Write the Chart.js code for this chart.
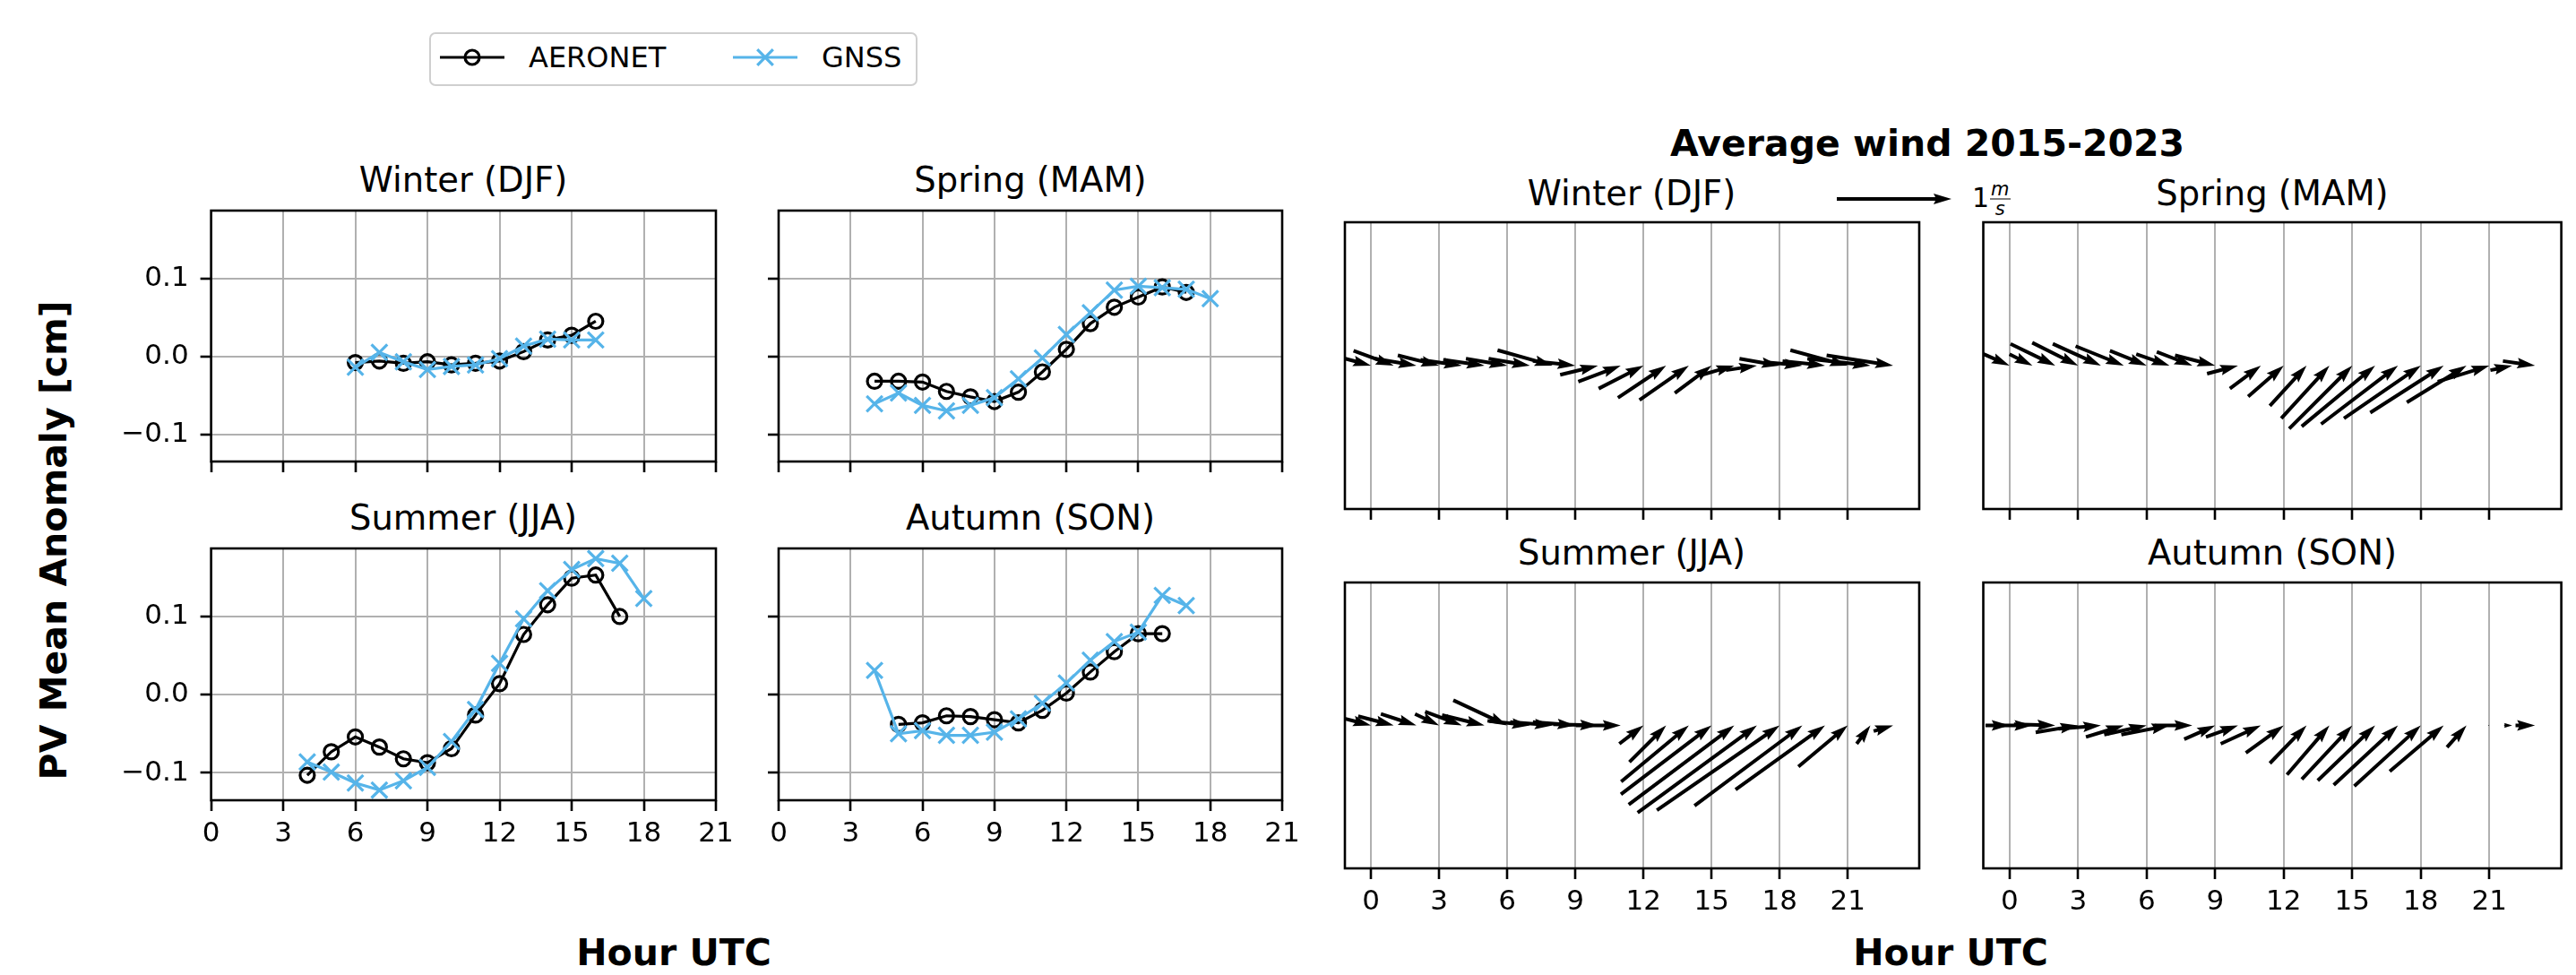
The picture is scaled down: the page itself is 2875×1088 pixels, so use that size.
<!DOCTYPE html>
<html>
<head>
<meta charset="utf-8">
<script src="https://cdn.jsdelivr.net/npm/chart.js@4.4.0/dist/chart.umd.min.js"></script>
<style>
    body { margin: 0; background: #fff; width: 2875px; height: 1088px; position: relative; overflow: hidden; font-family: "DejaVu Sans", sans-serif; }
    canvas { position: absolute; left: 0; top: 0; }
    .t { position: absolute; transform: translate(-50%, -50%); white-space: nowrap; line-height: 1; color: #000; }
    .ttl { font-size: 38.5px; }
    .big { font-size: 41px; font-weight: bold; }
    .leg { position: absolute; left: 479px; top: 36px; width: 541px; height: 56px; border: 2.5px solid #cfcfcf; border-radius: 7px; }
    .lt { position: absolute; transform: translate(0, -50%); font-size: 32px; line-height: 1; white-space: nowrap; }
</style>
</head>
<body>

<div class="leg"></div>
<div class="lt" style="left:590px;top:64px">AERONET</div>
<div class="lt" style="left:917px;top:64px">GNSS</div>

<div class="t ttl" style="left:517px;top:201px">Winter (DJF)</div>
<div class="t ttl" style="left:1150px;top:201px">Spring (MAM)</div>
<div class="t ttl" style="left:517px;top:578px">Summer (JJA)</div>
<div class="t ttl" style="left:1150px;top:578px">Autumn (SON)</div>

<div class="t big" style="left:2151px;top:160px">Average wind 2015-2023</div>
<div class="t ttl" style="left:1821px;top:216px">Winter (DJF)</div>
<div class="t ttl" style="left:2536px;top:216px">Spring (MAM)</div>
<div class="t ttl" style="left:1821px;top:617px">Summer (JJA)</div>
<div class="t ttl" style="left:2536px;top:617px">Autumn (SON)</div>

<div class="lt" style="left:2201px;top:222px;font-size:30px">1<span style="display:inline-flex;flex-direction:column;align-items:center;font-style:italic;font-size:21px;line-height:1;vertical-align:middle;margin-left:1px"><span style="border-bottom:1.8px solid #000;padding:0 1px">m</span><span>s</span></span></div>

<div class="t big" style="left:752px;top:1063px">Hour UTC</div>
<div class="t big" style="left:2177px;top:1063px">Hour UTC</div>
<div class="t big" style="left:60px;top:603px;transform:translate(-50%,-50%) rotate(-90deg)">PV Mean Anomaly [cm]</div>

<script>
// ticks
var hourTicks = [0, 3, 6, 9, 12, 15, 18, 21];
var pvTicks = [-0.1, 0.0, 0.1];

// PV anomaly per season (cm)
var winterAeronetHours = [6, 7, 8, 9, 10, 11, 12, 13, 14, 15, 16];
var winterAeronet = [-0.008, -0.006, -0.009, -0.007, -0.011, -0.009, -0.006, 0.006, 0.021, 0.027, 0.045];
var winterGnssHours = [6, 7, 8, 9, 10, 11, 12, 13, 14, 15, 16];
var winterGnss = [-0.014, 0.005, -0.007, -0.017, -0.013, -0.011, -0.003, 0.013, 0.022, 0.021, 0.021];

var springAeronetHours = [4, 5, 6, 7, 8, 9, 10, 11, 12, 13, 14, 15, 16, 17];
var springAeronet = [-0.032, -0.032, -0.033, -0.045, -0.052, -0.058, -0.046, -0.020, 0.009, 0.042, 0.063, 0.076, 0.089, 0.082];
var springGnssHours = [4, 5, 6, 7, 8, 9, 10, 11, 12, 13, 14, 15, 16, 17, 18];
var springGnss = [-0.061, -0.047, -0.063, -0.070, -0.063, -0.053, -0.029, -0.002, 0.028, 0.056, 0.085, 0.090, 0.088, 0.086, 0.074];

var summerAeronetHours = [4, 5, 6, 7, 8, 9, 10, 11, 12, 13, 14, 15, 16, 17];
var summerAeronet = [-0.103, -0.073, -0.054, -0.067, -0.082, -0.087, -0.069, -0.026, 0.014, 0.077, 0.115, 0.149, 0.153, 0.100];
var summerGnssHours = [4, 5, 6, 7, 8, 9, 10, 11, 12, 13, 14, 15, 16, 17, 18];
var summerGnss = [-0.086, -0.099, -0.113, -0.122, -0.110, -0.093, -0.060, -0.019, 0.040, 0.097, 0.133, 0.160, 0.174, 0.168, 0.123];

var autumnAeronetHours = [5, 6, 7, 8, 9, 10, 11, 12, 13, 14, 15, 16];
var autumnAeronet = [-0.038, -0.036, -0.027, -0.028, -0.032, -0.036, -0.020, 0.002, 0.029, 0.055, 0.078, 0.078];
var autumnGnssHours = [4, 5, 6, 7, 8, 9, 10, 11, 12, 13, 14, 15, 16, 17];
var autumnGnss = [0.031, -0.050, -0.046, -0.052, -0.052, -0.048, -0.031, -0.011, 0.015, 0.044, 0.068, 0.080, 0.127, 0.114];

// average wind components (m/s) per hour
var windHours = [0, 1, 2, 3, 4, 5, 6, 7, 8, 9, 10, 11, 12, 13, 14, 15, 16, 17, 18, 19, 20, 21, 22, 23];
var winterU = [0.33, 0.35, 0.36, 0.36, 0.36, 0.36, 0.36, 0.36, 0.48, 0.37, 0.33, 0.37, 0.39, 0.42, 0.43, 0.32, 0.28, 0.27, 0.35, 0.32, 0.37, 0.50, 0.55, 0.58];
var winterV = [-0.09, -0.13, -0.06, -0.09, -0.05, -0.05, -0.06, -0.06, -0.135, -0.04, 0.08, 0.14, 0.20, 0.28, 0.30, 0.24, 0.08, 0.04, -0.06, -0.03, -0.04, -0.135, -0.06, -0.09];
var springU = [0.27, 0.20, 0.39, 0.40, 0.42, 0.42, 0.32, 0.29, 0.31, 0.35, 0.27, 0.27, 0.31, 0.32, 0.42, 0.55, 0.64, 0.67, 0.67, 0.64, 0.52, 0.45, 0.19, 0.28];
var springV = [-0.12, -0.10, -0.19, -0.20, -0.19, -0.17, -0.13, -0.10, -0.12, -0.09, 0.07, 0.20, 0.27, 0.35, 0.46, 0.55, 0.53, 0.51, 0.46, 0.41, 0.32, 0.14, 0.04, -0.04];
var summerU = [0.23, 0.31, 0.31, 0.21, 0.32, 0.37, 0.47, 0.37, 0.37, 0.37, 0.39, 0.39, 0.21, 0.32, 0.59, 0.79, 0.92, 1.04, 1.07, 0.94, 0.78, 0.43, 0.12, 0.17];
var summerV = [-0.06, -0.08, -0.10, -0.10, -0.12, -0.09, -0.22, -0.04, -0.03, -0.03, -0.01, 0.00, 0.16, 0.32, 0.49, 0.60, 0.69, 0.76, 0.74, 0.70, 0.56, 0.36, 0.16, 0.05];
var autumnU = [0.21, 0.31, 0.36, 0.37, 0.37, 0.33, 0.37, 0.42, 0.33, 0.27, 0.28, 0.35, 0.33, 0.32, 0.37, 0.44, 0.50, 0.56, 0.58, 0.47, 0.17, 0.01, 0.07, 0.17];
var autumnV = [0.00, 0.00, -0.01, 0.06, 0.03, 0.10, 0.08, 0.08, 0.00, 0.12, 0.10, 0.16, 0.24, 0.33, 0.43, 0.47, 0.48, 0.52, 0.53, 0.40, 0.19, 0.00, 0.00, 0.00];
var keySpeed = 1;

var W = 2875, H = 1088;
var YW = 100, XH = 80;
var PX_PER_MS = 128;   // arrow length for 1 m/s
var SHAFT = 4;
var gnssColor = "#56B4E9";
var gridColor = "#b0b0b0";

Chart.defaults.font.family = "DejaVu Sans";
Chart.defaults.color = "#000";

function addCanvas(id) {
    var c = document.createElement("canvas");
    c.id = id;
    c.width = W;
    c.height = H;
    document.body.appendChild(c);
    return c.getContext("2d");
}

function pts(hours, vals) {
    return hours.map(function(h, i) { return { x: h, y: vals[i] }; });
}

var boxPlugin = {
    id: "box",
    afterDraw: function(chart) {
        var a = chart.chartArea, c = chart.ctx;
        c.save();
        c.strokeStyle = "#000";
        c.lineWidth = 2.6;
        c.strokeRect(a.left, a.top, a.right - a.left, a.bottom - a.top);
        c.restore();
    }
};

function xAxis(min, max, showLabels, gridOn) {
    return {
        type: "linear", min: min, max: max,
        afterBuildTicks: function(s) { s.ticks = hourTicks.map(function(v) { return { value: v }; }); },
        afterFit: function(s) { s.height = XH; s.paddingLeft = 0; s.paddingRight = 0; },
        ticks: {
            autoSkip: false, maxRotation: 0, padding: 7,
            font: { size: 31 },
            callback: function(v) { return showLabels ? String(v) : ""; }
        },
        grid: { display: true, drawOnChartArea: gridOn, color: gridColor, lineWidth: 2, tickLength: 12, tickColor: "#000", tickWidth: 2.6 },
        border: { display: false }
    };
}

function lineChart(id, box, aH, aV, gH, gV, showX, showY) {
    var ctx = addCanvas(id);
    var plugins = [boxPlugin];
    if (id === "pvWinter") plugins.push(legendPlugin);
    return new Chart(ctx, {
        type: "line",
        data: {
            datasets: [{
                label: "GNSS",
                data: pts(gH, gV),
                borderColor: gnssColor, backgroundColor: gnssColor,
                borderWidth: 3.2, pointStyle: "crossRot", pointRadius: 12.5,
                pointBorderColor: gnssColor, pointBorderWidth: 3.2, order: 0
            }, {
                label: "AERONET",
                data: pts(aH, aV),
                borderColor: "#000", backgroundColor: "rgba(0,0,0,0)",
                borderWidth: 3.2, pointStyle: "circle", pointRadius: 8,
                pointBorderColor: "#000", pointBackgroundColor: "rgba(0,0,0,0)", pointBorderWidth: 3.2, order: 1
            }]
        },
        options: {
            responsive: false, animation: false, events: [],
            layout: { padding: { left: box.l - YW, top: box.t, right: W - box.r, bottom: H - box.b - XH } },
            plugins: { legend: { display: false }, tooltip: { enabled: false } },
            scales: {
                x: xAxis(0, 21, showX, true),
                y: {
                    min: -0.135, max: 0.187,
                    afterBuildTicks: function(s) { s.ticks = pvTicks.map(function(v) { return { value: v }; }); },
                    afterFit: function(s) { s.width = YW; s.paddingTop = 0; s.paddingBottom = 0; },
                    ticks: {
                        padding: 13, font: { size: 31 },
                        callback: function(v) {
                            if (!showY) return "";
                            return (v < 0 ? "\u2212" : "") + Math.abs(v).toFixed(1);
                        }
                    },
                    grid: { color: gridColor, lineWidth: 2, tickLength: 12, tickColor: "#000", tickWidth: 2.6 },
                    border: { display: false }
                }
            }
        },
        plugins: plugins
    });
}

// legend samples drawn next to the html legend text
var legendPlugin = {
    id: "legendSamples",
    afterDraw: function(chart) {
        var c = chart.ctx, y = 64;
        c.save();
        c.lineWidth = 3.2;
        c.strokeStyle = "#000";
        c.beginPath(); c.moveTo(491, y); c.lineTo(563, y); c.stroke();
        c.beginPath(); c.arc(527, y, 8, 0, Math.PI * 2); c.stroke();
        c.strokeStyle = gnssColor;
        c.beginPath(); c.moveTo(818, y); c.lineTo(890, y); c.stroke();
        c.beginPath();
        c.moveTo(854 - 8.8, y - 8.8); c.lineTo(854 + 8.8, y + 8.8);
        c.moveTo(854 - 8.8, y + 8.8); c.lineTo(854 + 8.8, y - 8.8);
        c.stroke();
        c.restore();
    }
};

// matplotlib-like arrow, tip at (x, y), vector (dx, dy) in pixels
function drawArrow(c, x, y, dx, dy) {
    var L = Math.hypot(dx, dy);
    if (L < 0.3) return;
    var w = SHAFT, minsh = 5 * w, s = 1, len = L;
    if (L < minsh) { s = L / minsh; len = minsh; }
    c.save();
    c.translate(x, y);
    c.rotate(Math.atan2(dy, dx));
    c.scale(s, s);
    c.beginPath();
    c.moveTo(-len, -w / 2);
    c.lineTo(-4.5 * w, -w / 2);
    c.lineTo(-5 * w, -1.5 * w);
    c.lineTo(0, 0);
    c.lineTo(-5 * w, 1.5 * w);
    c.lineTo(-4.5 * w, w / 2);
    c.lineTo(-len, w / 2);
    c.closePath();
    c.fillStyle = "#000";
    c.fill();
    c.restore();
}

var quiverPlugin = {
    id: "quiver",
    afterDatasetsDraw: function(chart) {
        var c = chart.ctx, a = chart.chartArea;
        var ds = chart.data.datasets[0];
        var meta = chart.getDatasetMeta(0);
        c.save();
        c.beginPath();
        c.rect(a.left, a.top, a.right - a.left, a.bottom - a.top);
        c.clip();
        meta.data.forEach(function(el, i) {
            drawArrow(c, el.x, el.y, ds.u[i] * PX_PER_MS, -ds.v[i] * PX_PER_MS);
        });
        c.restore();
        if (ds.key) {
            drawArrow(c, 2178, 222, keySpeed * PX_PER_MS, 0);
        }
    }
};

function quiverChart(id, box, u, v, showX, key) {
    var ctx = addCanvas(id);
    return new Chart(ctx, {
        type: "scatter",
        data: {
            datasets: [{
                label: "wind",
                data: windHours.map(function(h) { return { x: h, y: 0 }; }),
                pointRadius: 0, u: u, v: v, key: key
            }]
        },
        options: {
            responsive: false, animation: false, events: [],
            layout: { padding: { left: box.l, top: box.t, right: W - box.r, bottom: H - box.b - XH } },
            plugins: { legend: { display: false }, tooltip: { enabled: false } },
            scales: {
                x: xAxis(-1.15, 24.15, showX, true),
                y: { display: false, min: -1, max: 1 }
            }
        },
        plugins: [quiverPlugin, boxPlugin]
    });
}

lineChart("pvWinter", { l: 235.6, r: 799, t: 235, b: 515 }, winterAeronetHours, winterAeronet, winterGnssHours, winterGnss, false, true);
lineChart("pvSpring", { l: 869, r: 1431, t: 235, b: 515 }, springAeronetHours, springAeronet, springGnssHours, springGnss, false, false);
lineChart("pvSummer", { l: 235.6, r: 799, t: 612, b: 893 }, summerAeronetHours, summerAeronet, summerGnssHours, summerGnss, true, true);
lineChart("pvAutumn", { l: 869, r: 1431, t: 612, b: 893 }, autumnAeronetHours, autumnAeronet, autumnGnssHours, autumnGnss, true, false);

quiverChart("windWinter", { l: 1501, r: 2142, t: 248, b: 568 }, winterU, winterV, false, true);
quiverChart("windSpring", { l: 2213.5, r: 2858.6, t: 248, b: 568 }, springU, springV, false, false);
quiverChart("windSummer", { l: 1501, r: 2142, t: 650, b: 969 }, summerU, summerV, true, false);
quiverChart("windAutumn", { l: 2213.5, r: 2858.6, t: 650, b: 969 }, autumnU, autumnV, true, false);
</script>
</body>
</html>
